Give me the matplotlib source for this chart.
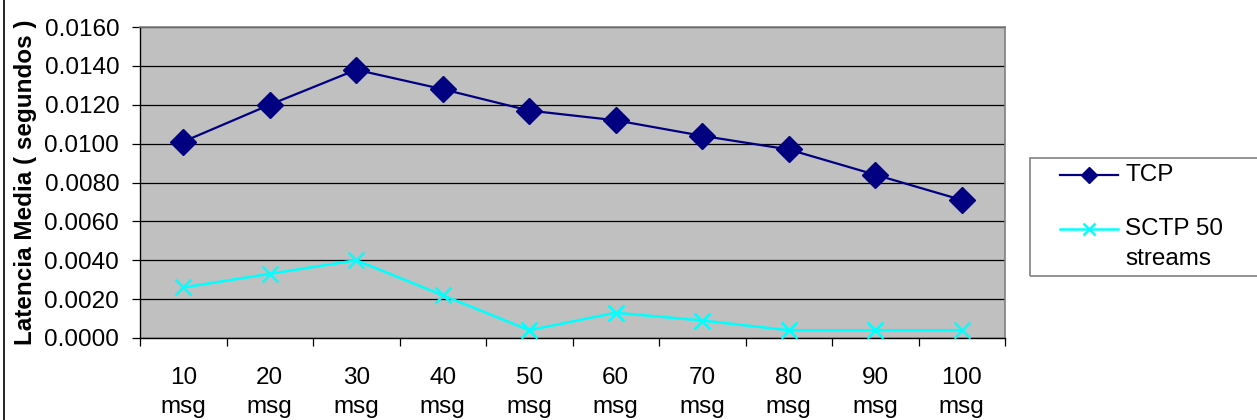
import numpy as np
import matplotlib
matplotlib.use("Agg")
import matplotlib.pyplot as plt
from matplotlib.lines import Line2D
from matplotlib.patches import Rectangle
from matplotlib.ticker import FixedLocator, FormatStrFormatter

plt.rcParams['font.family'] = ['Liberation Sans', 'DejaVu Sans']

## latency data (seconds) per message count
categories = ["10\nmsg", "20\nmsg", "30\nmsg", "40\nmsg", "50\nmsg",
              "60\nmsg", "70\nmsg", "80\nmsg", "90\nmsg", "100\nmsg"]
tcp = [0.0101, 0.0120, 0.0138, 0.0128, 0.0117,
       0.0112, 0.0104, 0.0097, 0.0084, 0.0071]
sctp = [0.0026, 0.0033, 0.0040, 0.0022, 0.0004,
        0.0013, 0.0009, 0.0004, 0.0004, 0.0004]
yticks = [0.0, 0.002, 0.004, 0.006, 0.008, 0.010, 0.012, 0.014, 0.016]

W, H = 1257, 420
fs = 17.5
navy = '#000080'
cyan = '#00FFFF'

fig = plt.figure(figsize=(W/100, H/100), dpi=100)
fig.patch.set_facecolor('white')

# plot area in pixel coordinates
x0, x1, y0, y1 = 140, 1005, 27, 338
ax = fig.add_axes([x0/W, 1 - y1/H, (x1 - x0)/W, (y1 - y0)/H])
ax.set_facecolor('#C0C0C0')

x = np.arange(len(categories))
ax.plot(x, tcp, color=navy, lw=1.6, marker='D', ms=13.5, mfc=navy, mec=navy, zorder=3)
ax.plot(x, sctp, color=cyan, lw=1.8, marker='x', ms=11, mew=1.8, zorder=3)

ax.set_xlim(-0.5, len(categories) - 0.5)
ax.set_ylim(0, 0.016)
ax.set_yticks(yticks)
ax.yaxis.set_major_formatter(FormatStrFormatter('%.4f'))
ax.yaxis.grid(True, color='black', lw=0.9)
ax.set_axisbelow(True)

ax.set_xticks(x)
ax.set_xticklabels(categories, linespacing=1.42)
ax.xaxis.set_minor_locator(FixedLocator(np.arange(-0.5, len(categories), 1.0)))
ax.tick_params(axis='x', which='major', length=0, pad=21, labelsize=fs)
ax.tick_params(axis='x', which='minor', length=6, width=0.9, color='black')
ax.tick_params(axis='y', length=6, width=0.9, pad=9, labelsize=fs)

for side in ['top', 'right']:
    ax.spines[side].set_color('#808080')
    ax.spines[side].set_linewidth(1.2)
for side in ['left', 'bottom']:
    ax.spines[side].set_color('black')
    ax.spines[side].set_linewidth(1.0)

ax.set_ylabel('Latencia Media ( segundos )', fontsize=fs, fontweight='bold')
ax.yaxis.set_label_coords((25 - x0)/(x1 - x0), 0.5)
ax.yaxis.label.set_va('center')

# legend box, drawn in figure coordinates
fig.patches.append(Rectangle((1030/W, 1 - 276/H), 240/W, 118/H,
                             transform=fig.transFigure, fill=False,
                             edgecolor='#808080', lw=1.2))
fig.lines.append(Line2D([1060/W, 1118/W], [1 - 175/H, 1 - 175/H], transform=fig.transFigure,
                        color=navy, lw=1.6))
fig.lines.append(Line2D([1089/W], [1 - 175/H], transform=fig.transFigure,
                        color=navy, marker='D', ms=8, mfc=navy, mec=navy, ls='none'))
fig.lines.append(Line2D([1060/W, 1118/W], [1 - 229/H, 1 - 229/H], transform=fig.transFigure,
                        color=cyan, lw=1.8))
fig.lines.append(Line2D([1089/W], [1 - 229/H], transform=fig.transFigure,
                        color=cyan, marker='x', ms=9, mew=1.8, ls='none'))
fig.text(1125/W, 1 - 175/H, 'TCP', fontsize=fs, va='center', ha='left')
fig.text(1125/W, 1 - 229/H, 'SCTP 50', fontsize=fs, va='center', ha='left')
fig.text(1125/W, 1 - 259/H, 'streams', fontsize=fs, va='center', ha='left')

# chart area border on the left edge
fig.lines.append(Line2D([4/W, 4/W], [0, 1], transform=fig.transFigure, color='black', lw=1.2))

fig.savefig('out.png', dpi=100)
